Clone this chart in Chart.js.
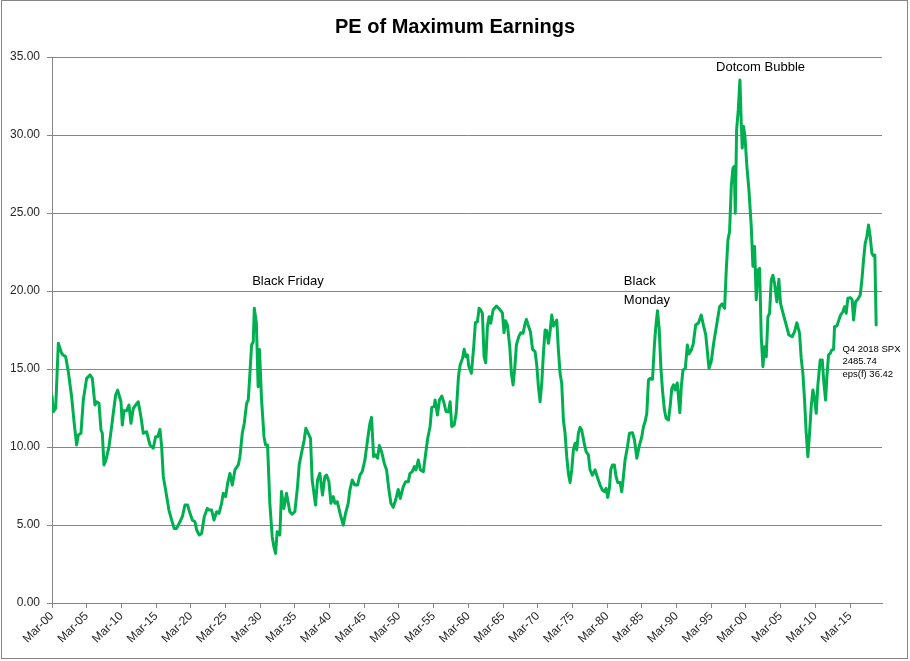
<!DOCTYPE html>
<html><head><meta charset="utf-8">
<script src="https://cdn.jsdelivr.net/npm/chart.js@4.4.0/dist/chart.umd.min.js"></script>
<style>html,body{margin:0;padding:0;background:#fff;}canvas{display:block;}</style>
</head><body>
<canvas id="c" width="910" height="661"></canvas>
<script>
// decimal year of each reading (quarterly data, Mar-1900 .. Dec-2018)
const years = [
1900.00,1900.19,1900.53,1900.91,1901.39,1901.60,1901.97,1902.35,1902.83,1903.20,1903.55,1903.79,1904.17,1904.51,1904.99,
1905.47,1905.81,1906.19,1906.43,1906.77,1907.06,1907.25,1907.49,1907.78,1908.21,1908.59,1908.83,1909.17,1909.46,1909.94,
1910.13,1910.37,1910.75,1911.09,1911.38,1911.72,1912.05,1912.43,1912.82,1913.15,1913.63,1914.11,1914.59,1914.93,
1915.22,1915.56,1915.80,1916.04,1916.37,1916.85,1917.24,1917.62,1917.96,1918.44,1918.78,1919.16,1919.55,1919.88,
1920.22,1920.60,1920.84,1921.22,1921.56,1921.94,1922.37,1922.66,1923.00,1923.34,1923.72,1924.06,1924.44,1924.68,
1925.02,1925.31,1925.64,1925.98,1926.36,1926.84,1927.08,1927.42,1927.71,1928.04,1928.28,1928.52,1928.76,1929.00,1929.15,1929.45,1929.70,1929.90,
1930.20,1930.55,1930.77,1931.06,1931.39,1931.73,1931.97,1932.21,1932.45,1932.83,1933.07,1933.41,1933.79,1934.27,1934.61,1934.99,
1935.38,1935.62,1935.95,1936.34,1936.58,1936.92,1937.25,1937.49,1937.97,1938.26,1938.60,1938.98,1939.32,1939.56,1939.90,
1940.19,1940.53,1940.77,1941.10,1941.34,1941.63,1941.97,1942.30,1942.68,1942.92,1943.26,1943.64,1944.03,1944.37,1944.70,
1945.09,1945.47,1945.81,1946.05,1946.34,1946.63,1946.92,1947.16,1947.49,1947.88,1948.21,1948.55,1948.84,1949.17,1949.51,1949.89,
1950.18,1950.62,1950.95,1951.34,1951.58,1951.92,1952.21,1952.45,1952.79,1953.08,1953.51,1953.85,1954.14,1954.48,1954.72,
1955.06,1955.20,1955.54,1955.83,1956.17,1956.50,1956.79,1957.13,1957.37,1957.61,1957.95,1958.24,1958.57,1958.81,1959.15,1959.39,1959.63,1959.87,
1960.05,1960.43,1960.77,1961.01,1961.30,1961.54,1961.78,1962.02,1962.26,1962.50,1962.74,1962.98,1963.22,1963.56,1964.04,1964.52,1964.90,
1965.14,1965.33,1965.62,1965.96,1966.20,1966.44,1966.68,1966.92,1967.26,1967.55,1967.88,1968.12,1968.36,1968.60,1968.94,1969.25,1969.61,1969.85,
1970.09,1970.33,1970.57,1970.81,1971.05,1971.29,1971.53,1971.77,1972.01,1972.25,1972.49,1972.73,1972.97,1973.21,1973.45,1973.69,1973.93,1974.17,1974.41,1974.65,1974.89,
1975.13,1975.37,1975.61,1975.85,1976.09,1976.33,1976.67,1976.96,1977.29,1977.53,1977.87,1978.25,1978.64,1978.98,1979.31,1979.60,1979.84,
1980.08,1980.32,1980.51,1980.75,1981.04,1981.28,1981.52,1981.86,1982.10,1982.34,1982.58,1982.92,1983.21,1983.64,1983.93,1984.27,1984.60,1984.99,
1985.23,1985.47,1985.71,1985.95,1986.19,1986.53,1986.82,1987.01,1987.25,1987.49,1987.73,1987.97,1988.25,1988.49,1988.83,1989.07,1989.31,1989.55,1989.79,
1990.10,1990.47,1990.68,1990.92,1991.26,1991.55,1991.79,1992.12,1992.40,1992.75,1993.15,1993.55,1993.90,1994.20,1994.67,
1995.00,1995.34,1995.73,1996.20,1996.54,1996.92,1997.16,1997.40,1997.64,1997.88,1998.12,1998.31,1998.46,1998.65,1998.89,1999.13,1999.32,1999.46,1999.65,1999.85,
2000.13,2000.42,2000.76,2001.00,2001.24,2001.48,2001.72,2001.96,2002.20,2002.44,2002.68,2002.92,2003.16,2003.40,2003.64,2003.88,2004.12,2004.45,2004.74,2004.98,
2005.41,2005.80,2006.18,2006.66,2007.00,2007.33,2007.72,2007.96,2008.20,2008.44,2008.68,2008.92,2009.16,2009.40,2009.64,2009.88,
2010.12,2010.36,2010.70,2010.99,2011.23,2011.47,2011.66,2011.90,2012.14,2012.38,2012.62,2012.76,2013.10,2013.39,2013.63,2013.96,2014.20,2014.44,2014.68,
2015.07,2015.31,2015.50,2015.79,2016.12,2016.46,2016.70,2016.94,2017.18,2017.42,2017.66,2017.90,2018.14,2018.38,2018.57,2018.76
];
// PE of maximum earnings at each reading
const peValues = [
13.27,12.26,12.48,16.65,16.00,15.90,15.79,14.83,13.22,11.52,10.13,10.77,10.88,13.01,14.40,
14.62,14.40,12.69,12.90,12.80,11.09,10.88,8.85,9.17,10.02,11.30,12.16,13.33,13.65,12.90,
11.41,12.33,12.33,12.69,11.52,12.48,12.69,12.90,11.93,10.88,10.98,10.13,9.92,10.66,
10.66,11.13,10.02,8.10,7.24,5.96,5.32,4.78,4.78,5.21,5.53,6.28,6.28,5.75,
5.32,5.21,4.68,4.36,4.46,5.53,6.06,5.96,5.96,5.32,5.85,5.75,6.39,7.03,
6.82,7.67,8.31,7.56,8.53,8.85,9.38,10.88,11.52,12.80,13.01,14.72,16.54,16.75,18.89,17.95,13.87,16.25,
13.00,10.66,10.13,10.13,6.39,4.25,3.61,3.18,4.57,4.36,7.14,6.06,7.03,5.85,5.70,5.85,
7.46,8.85,9.60,10.45,11.20,10.88,10.56,7.88,6.28,7.88,8.31,6.92,8.10,8.20,7.78,
6.39,6.82,6.39,6.50,6.06,5.53,4.99,5.75,6.39,7.24,7.88,7.56,7.56,8.20,8.42,
9.17,10.45,11.52,11.90,9.38,9.49,9.28,10.09,9.70,8.95,8.53,7.24,6.39,6.13,6.60,7.28,
6.70,7.46,7.78,7.78,8.31,8.42,8.74,8.53,9.17,8.53,8.42,9.60,10.56,11.31,12.54,
12.59,13.01,12.05,13.01,13.27,12.80,12.26,12.26,12.90,11.31,11.41,12.16,14.51,15.26,15.68,16.26,15.79,15.90,
15.20,14.72,16.43,17.97,18.03,18.89,18.78,18.56,15.79,15.40,17.71,18.35,17.93,18.78,19.04,18.82,18.60,
17.33,18.10,17.82,16.43,14.72,13.98,15.04,16.54,17.07,17.33,17.29,17.82,18.18,17.82,17.39,16.26,16.11,15.26,
13.87,12.90,14.08,15.99,17.50,17.46,16.65,17.39,18.46,17.76,17.93,18.14,16.22,14.72,14.08,11.73,10.88,9.38,8.31,7.72,8.53,
9.81,10.24,9.81,10.88,11.26,11.09,10.28,9.70,9.49,8.53,8.20,8.53,8.00,7.56,7.24,7.14,7.35,
6.77,7.35,8.53,8.85,8.85,8.10,7.72,7.72,7.14,8.10,9.17,10.02,10.88,10.92,10.45,9.28,10.02,10.66,
11.31,11.63,12.16,14.30,14.40,14.34,16.65,17.71,18.74,17.61,15.15,13.65,12.37,11.84,11.73,12.59,13.76,13.98,13.65,
14.10,12.20,13.87,14.93,15.04,16.54,15.97,16.22,16.60,17.82,17.95,18.46,17.75,17.20,15.04,
15.50,16.65,17.71,18.99,19.17,18.89,21.35,23.28,23.81,26.70,27.88,27.99,24.99,30.33,31.61,33.53,30.76,29.16,30.55,29.91,
27.99,26.50,24.14,21.58,22.86,19.44,21.35,21.46,17.08,15.15,16.43,15.79,18.35,18.57,20.70,21.01,20.48,19.31,20.75,19.20,
18.46,17.82,17.18,17.07,17.39,17.97,17.29,15.68,14.72,13.01,10.88,9.38,10.88,12.59,13.66,13.12,
12.16,13.98,15.58,15.58,14.10,13.01,14.51,15.90,16.00,16.22,16.26,17.71,17.76,18.14,18.46,18.67,18.99,18.57,19.53,
19.57,19.42,18.14,19.31,19.47,19.74,20.70,21.99,23.06,23.49,24.23,23.49,22.42,22.25,22.31,17.82
];
const xTickYears = [1900,1905,1910,1915,1920,1925,1930,1935,1940,1945,1950,1955,1960,1965,1970,1975,1980,1985,1990,1995,2000,2005,2010,2015];
const xTickLabels = ['Mar-00','Mar-05','Mar-10','Mar-15','Mar-20','Mar-25','Mar-30','Mar-35','Mar-40','Mar-45','Mar-50','Mar-55','Mar-60','Mar-65','Mar-70','Mar-75','Mar-80','Mar-85','Mar-90','Mar-95','Mar-00','Mar-05','Mar-10','Mar-15'];
const yTickValues = [0,5,10,15,20,25,30,35];
const chartTitle = 'PE of Maximum Earnings';
const noteTexts = {
  blackFriday: ['Black Friday'],
  blackMonday: ['Black', 'Monday'],
  dotcom: ['Dotcom Bubble'],
  q4: ['Q4 2018 SPX', '2485.74', 'eps(f) 36.42']
};

const FONT = '"Liberation Sans", Arial, sans-serif';
const GRID = '#868686';

const decor = {
  id: 'decor',
  beforeDraw(chart) {
    const ctx = chart.ctx;
    ctx.save();
    ctx.fillStyle = '#fff';
    ctx.fillRect(0, 0, chart.width, chart.height);
    ctx.restore();
  },
  afterDraw(chart) {
    const ctx = chart.ctx;
    const xs = chart.scales.x, ys = chart.scales.y;
    ctx.save();
    ctx.strokeStyle = GRID;
    ctx.lineWidth = 1;
    ctx.strokeRect(1.5, 0.5, 906, 658);
    ctx.fillStyle = '#000';
    ctx.textBaseline = 'middle';
    ctx.font = 'bold 20px ' + FONT;
    ctx.textAlign = 'center';
    ctx.fillText(chartTitle, 455, 27);

    ctx.font = '13px ' + FONT;
    ctx.textAlign = 'center';
    ctx.fillText(noteTexts.blackFriday[0], xs.getPixelForValue(1934.0), ys.getPixelForValue(20.6));
    ctx.fillText(noteTexts.dotcom[0], xs.getPixelForValue(2002.1), ys.getPixelForValue(34.34));
    ctx.textAlign = 'left';
    const bmX = xs.getPixelForValue(1982.4);
    ctx.fillText(noteTexts.blackMonday[0], bmX, ys.getPixelForValue(20.6));
    ctx.fillText(noteTexts.blackMonday[1], bmX, ys.getPixelForValue(19.42));

    ctx.font = '9.5px ' + FONT;
    const qx = xs.getPixelForValue(2013.9);
    const qy = ys.getPixelForValue(16.28);
    noteTexts.q4.forEach((t, i) => ctx.fillText(t, qx, qy + i * 12.7));
    ctx.restore();
  }
};

new Chart(document.getElementById('c'), {
  type: 'line',
  data: {
    datasets: [{
      data: years.map((y, i) => ({ x: y, y: peValues[i] })),
      borderColor: '#00B050',
      borderWidth: 3,
      pointRadius: 0,
      tension: 0,
      fill: false,
      borderJoinStyle: 'round',
      borderCapStyle: 'round'
    }]
  },
  options: {
    responsive: false,
    animation: false,
    devicePixelRatio: 1,
    layout: { padding: { top: 57, right: 28, bottom: 0, left: 0 } },
    plugins: { legend: { display: false }, title: { display: false }, tooltip: { enabled: false } },
    scales: {
      x: {
        type: 'linear', min: 1900, max: 2019.6,
        afterBuildTicks: s => { s.ticks = xTickYears.map(v => ({ value: v })); },
        afterFit: s => { s.height = 58; },
        grid: { drawOnChartArea: false, drawTicks: true, tickLength: 5, color: GRID },
        border: { display: true, color: GRID },
        ticks: {
          autoSkip: false, maxRotation: 45, minRotation: 45, padding: 1,
          font: { family: FONT, size: 12 }, color: '#262626',
          callback: (v, i) => xTickLabels[i]
        }
      },
      y: {
        min: 0, max: 35,
        afterBuildTicks: s => { s.ticks = yTickValues.map(v => ({ value: v })); },
        afterFit: s => { s.width = 52; },
        grid: { color: GRID, tickLength: 5, drawTicks: true },
        border: { display: true, color: GRID },
        ticks: {
          padding: 7, font: { family: FONT, size: 12 }, color: '#262626',
          callback: v => Number(v).toFixed(2)
        }
      }
    }
  },
  plugins: [decor]
});
</script>
</body></html>
